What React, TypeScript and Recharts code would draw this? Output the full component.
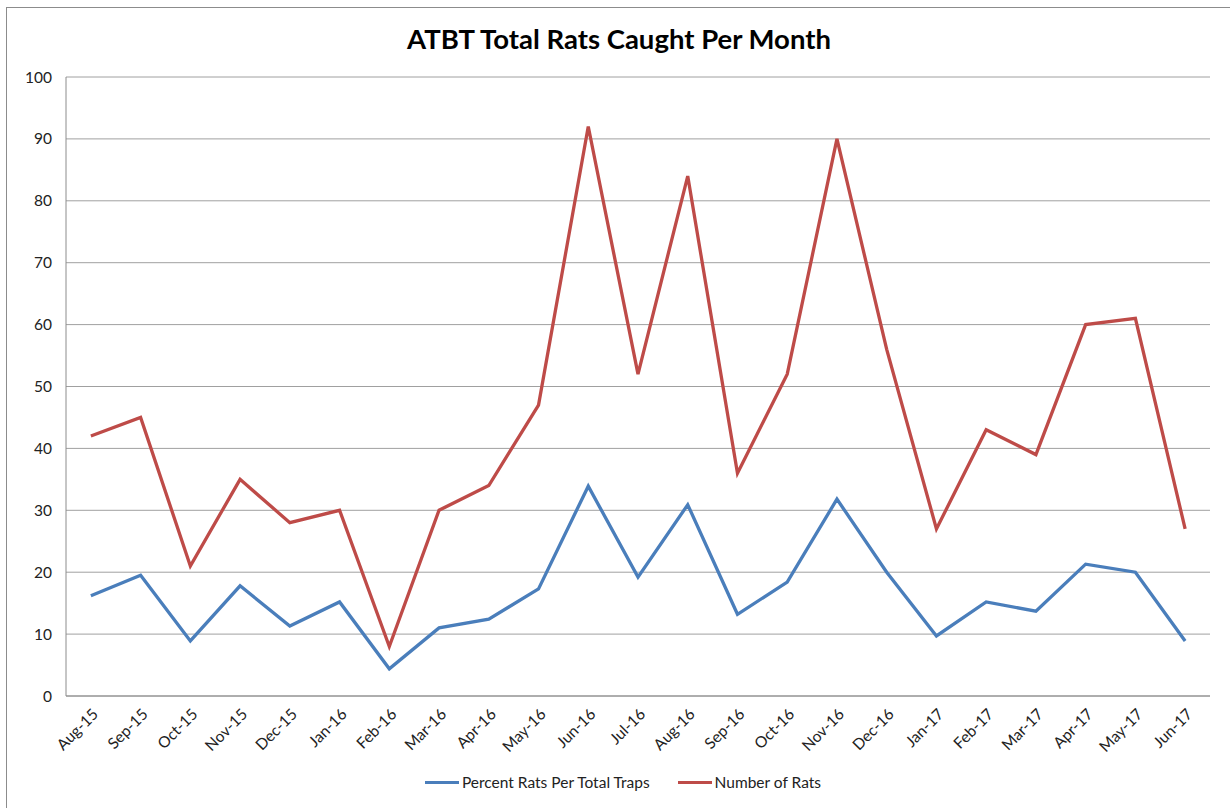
import { LineChart, Line, XAxis, YAxis, CartesianGrid } from "recharts"

const months = [
 "Aug-15","Sep-15","Oct-15","Nov-15","Dec-15","Jan-16","Feb-16","Mar-16","Apr-16","May-16","Jun-16","Jul-16",
 "Aug-16","Sep-16","Oct-16","Nov-16","Dec-16","Jan-17","Feb-17","Mar-17","Apr-17","May-17","Jun-17"
]

const percentRats = [16.2,19.5,8.9,17.8,11.3,15.2,4.4,11.0,12.4,17.3,33.9,19.2,30.9,13.2,18.4,31.8,20.0,9.7,15.2,13.7,21.3,20.0,8.9]

const numberRats = [42,45,21,35,28,30,8,30,34,47,92,52,84,36,52,90,56,27,43,39,60,61,27]

const yTicks = [0,10,20,30,40,50,60,70,80,90,100]

const series = [
 { key:"percent", name:"Percent Rats Per Total Traps", color:"#4a7ebb" },
 { key:"rats", name:"Number of Rats", color:"#be4b48" }
]

const font = "Lato, 'Open Sans', sans-serif"

const data = months.map((m,i)=>({ month:m, percent:percentRats[i], rats:numberRats[i] }))

function MonthTick(props:any){
 const { x, y, payload } = props
 return(
  <text x={x+4} y={y+7} transform={`rotate(-45 ${x+4} ${y+7})`} textAnchor="end" dominantBaseline="central"
   fontSize={15.5} fill="#222" fontFamily={font}>
   {payload.value}
  </text>
 )
}

export default function App(){
 return(
 <div style={{position:"absolute",left:0,top:0,width:1230,height:808,overflow:"hidden",background:"#fff"}}>

  <div style={{position:"absolute",left:6,top:7,width:1230,height:820,border:"1px solid #8c8c8c",boxSizing:"border-box"}} />

  <div style={{position:"absolute",left:0,top:22,width:1238,textAlign:"center",fontFamily:font,fontWeight:700,fontSize:27.5,color:"#000"}}>
   ATBT Total Rats Caught Per Month
  </div>

  <div style={{position:"absolute",left:0,top:0}}>
   <LineChart width={1230} height={808} data={data} margin={{top:77,right:20,bottom:52,left:16}}>
    <CartesianGrid vertical={false} stroke="#a0a0a0" strokeWidth={1} />
    <XAxis dataKey="month" scale="band" interval={0} tick={<MonthTick />} tickLine={false}
     axisLine={{stroke:"#8c8c8c"}} height={60} />
    <YAxis domain={[0,100]} ticks={yTicks} width={50} tickLine={false} axisLine={{stroke:"#8c8c8c"}}
     tick={{fontSize:15.5,fill:"#222",fontFamily:font}} tickMargin={8} />
    {series.map(s=>(
     <Line key={s.key} dataKey={s.key} name={s.name} stroke={s.color} strokeWidth={3.3}
      dot={false} isAnimationActive={false} />
    ))}
   </LineChart>
  </div>

  <div style={{position:"absolute",left:0,top:773,width:1230,display:"flex",justifyContent:"center",gap:28,
   fontFamily:font,fontSize:15.5,color:"#222",paddingLeft:16,boxSizing:"border-box"}}>
   {series.map(s=>(
    <div key={s.key} style={{display:"flex",alignItems:"center"}}>
     <span style={{display:"inline-block",width:34,height:3,background:s.color,marginRight:3}} />
     <span>{s.name}</span>
    </div>
   ))}
  </div>

 </div>
 )
}
